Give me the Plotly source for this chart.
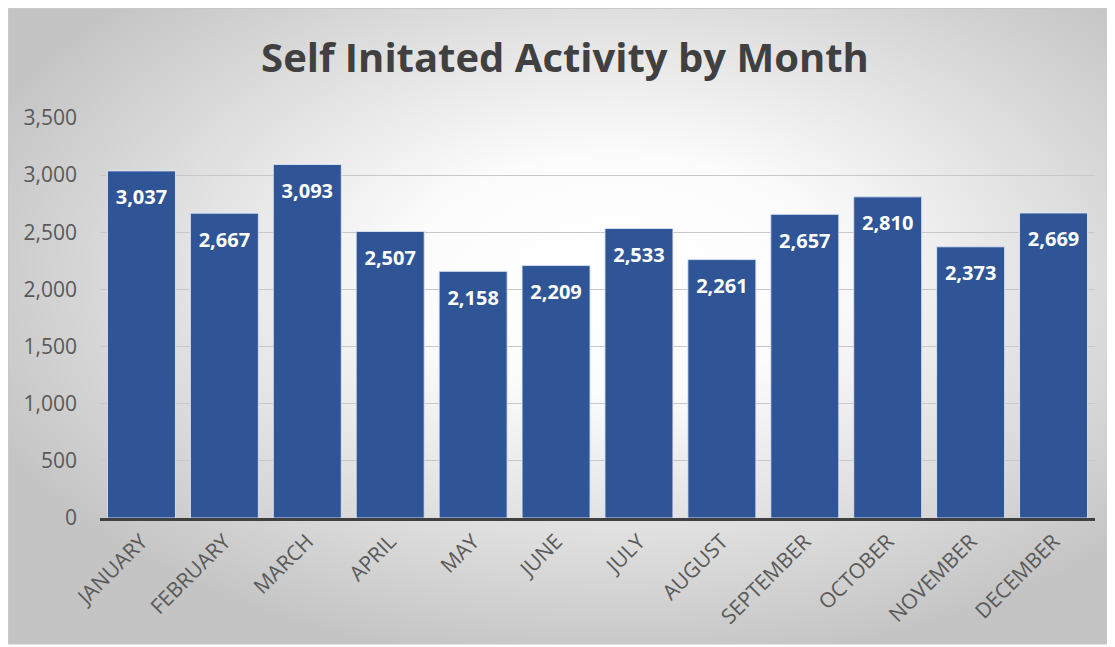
import base64
import plotly.graph_objects as go

months = ["JANUARY", "FEBRUARY", "MARCH", "APRIL", "MAY", "JUNE", "JULY",
          "AUGUST", "SEPTEMBER", "OCTOBER", "NOVEMBER", "DECEMBER"]
activity = [3037, 2667, 3093, 2507, 2158, 2209, 2533, 2261, 2657, 2810, 2373, 2669]
y_ticks = [0, 500, 1000, 1500, 2000, 2500, 3000, 3500]
title_text = "Self Initated Activity by Month"

# page has an 8px body margin, so the figure is sized/offset accordingly
W, H = 1107, 639
ML, MR, MT, MB = 92, 20, 110, 129
PW, PH = W - ML - MR, H - MT - MB

svg = """<svg xmlns='http://www.w3.org/2000/svg' width='1105' height='636' viewBox='0 0 1105 636' preserveAspectRatio='none'>
<defs><radialGradient id='g' cx='0.55' cy='0.42' r='0.62' fx='0.55' fy='0.42'>
<stop offset='0' stop-color='#ffffff'/><stop offset='0.3' stop-color='#fcfcfc'/>
<stop offset='1' stop-color='#c4c4c4'/></radialGradient></defs>
<rect x='0' y='0' width='1105' height='636' fill='url(#g)'/></svg>"""
src = "data:image/svg+xml;base64," + base64.b64encode(svg.encode()).decode()


def px_to_paper_x(px):
    return (px - ML) / PW


def py_to_paper_y(py):
    return (H - MB - py) / PH


x0, x1, y0, y1 = 0, 1105, 0, 636

fig = go.Figure()
fig.add_trace(go.Bar(
    x=months, y=activity,
    marker=dict(color="#2F5597", line=dict(color="rgba(220,228,245,0.9)", width=1)),
    hoverinfo="skip",
))
fig.add_trace(go.Scatter(
    x=months, y=activity, mode="markers+text",
    marker=dict(size=28, color="rgba(0,0,0,0)"),
    text=[f"{v:,}" for v in activity],
    textposition="bottom center",
    textfont=dict(family="Open Sans", size=20, color="white", weight="bold"),
    hoverinfo="skip",
))

fig.update_layout(
    width=W, height=H,
    margin=dict(l=ML, r=MR, t=MT, b=MB),
    paper_bgcolor="white", plot_bgcolor="rgba(0,0,0,0)",
    bargap=0.18,
    showlegend=False,
    title=dict(text=title_text, x=557 / W, xanchor="center", y=1 - 50 / H, yanchor="middle",
               font=dict(family="Open Sans", size=40, color="#404040", weight="bold")),
    font=dict(family="Open Sans", color="#595959"),
    images=[dict(source=src, xref="paper", yref="paper",
                 x=px_to_paper_x(x0), y=py_to_paper_y(y0),
                 sizex=(x1 - x0) / PW, sizey=(y1 - y0) / PH,
                 sizing="stretch", xanchor="left", yanchor="top", layer="below")],
    shapes=[dict(type="rect", xref="paper", yref="paper",
                 x0=px_to_paper_x(x0 + 0.5), x1=px_to_paper_x(x1),
                 y0=py_to_paper_y(y1), y1=py_to_paper_y(y0 + 0.5),
                 line=dict(color="#c8c8c8", width=1), layer="below")],
)
fig.update_xaxes(
    range=[-0.5, len(months) - 0.5],
    tickangle=-45, tickfont=dict(family="Open Sans", size=21, color="#595959"),
    showline=True, linecolor="#404040", linewidth=3, ticks="",
    showgrid=False, fixedrange=True, automargin=False,
)
fig.update_yaxes(
    range=[0, 3500], tickvals=y_ticks, tickformat=",",
    tickfont=dict(family="Open Sans", size=21, color="#595959"),
    showgrid=True, gridcolor="#c8c8c8", gridwidth=1,
    zeroline=False, showline=False, ticks="", ticklabelstandoff=22,
    fixedrange=True, automargin=False,
)

fig.write_html("out.html")
